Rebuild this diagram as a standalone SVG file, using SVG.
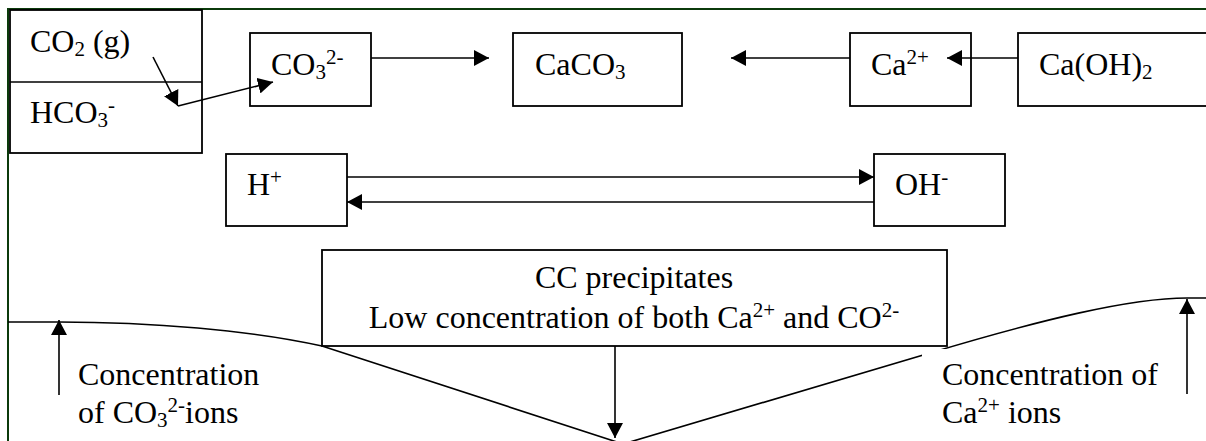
<svg xmlns="http://www.w3.org/2000/svg" width="1206" height="441" viewBox="0 0 1206 441" font-family="'Liberation Serif', 'Times New Roman', 'DejaVu Serif', serif">
<defs>
<style>
text{font-family:'Liberation Serif','Times New Roman','DejaVu Serif',serif;font-size:32px;fill:#000}
.s{font-size:21px}
.box{fill:#fff;stroke:#000;stroke-width:1.8}
.ln{fill:none;stroke:#000;stroke-width:1.6}
.arr{fill:none;stroke:#000;stroke-width:1.6;marker-end:url(#ah)}
</style>
<marker id="ah" markerUnits="userSpaceOnUse" markerWidth="16" markerHeight="16" refX="15" refY="8" orient="auto">
<path d="M0,0 L15,8 L0,16 z" fill="#000"/>
</marker>
</defs>
<rect x="0" y="0" width="1206" height="441" fill="#fff"/>
<path d="M8,441 L8,9 L1206,9" fill="none" stroke="#0b3a0b" stroke-width="2"/>

<g id="co2-hco3">
<rect class="box" x="10" y="10" width="192" height="143"/>
<line class="ln" x1="10" y1="82" x2="202" y2="82"/>
<text x="30" y="52">CO<tspan class="s" dy="4">2</tspan><tspan dy="-4"> (g)</tspan></text>
<text x="30" y="123">HCO<tspan class="s" dy="4">3</tspan><tspan class="s" dy="-15">-</tspan></text>
</g>
<g id="co3">
<rect class="box" x="250" y="33" width="121" height="73"/>
<text x="271" y="75">CO<tspan class="s" dy="4">3</tspan><tspan class="s" dy="-15">2-</tspan></text>
</g>
<g id="caco3">
<rect class="box" x="513" y="33" width="169" height="73"/>
<text x="535" y="75">CaCO<tspan class="s" dy="4">3</tspan></text>
</g>
<g id="ca">
<rect class="box" x="850" y="33" width="121" height="73"/>
<text x="871" y="75">Ca<tspan class="s" dy="-11">2+</tspan></text>
</g>
<g id="caoh2">
<rect class="box" x="1018" y="33" width="200" height="73"/>
<text x="1039" y="75">Ca(OH)<tspan class="s" dy="4">2</tspan></text>
</g>
<g id="h">
<rect class="box" x="226" y="154" width="121" height="72"/>
<text x="247" y="195">H<tspan class="s" dy="-11">+</tspan></text>
</g>
<g id="oh">
<rect class="box" x="874" y="154" width="131" height="72"/>
<text x="895" y="195">OH<tspan class="s" dy="-11">-</tspan></text>
</g>
<g id="cc">
<rect class="box" x="322" y="250" width="625" height="96"/>
<text x="634" y="288" text-anchor="middle">CC precipitates</text>
<text x="634" y="328" text-anchor="middle">Low concentration of both Ca<tspan class="s" dy="-11">2+</tspan><tspan dy="11"> and CO</tspan><tspan class="s" dy="-11">2-</tspan></text>
</g>

<g id="connectors">
<path class="ln" d="M8,322 L59,322 C150,322 250,330 322,346 L623,444"/>
<path class="ln" d="M623,444 L930,353 C1040,320 1130,298 1187,298 L1206,298"/>
<line class="arr" x1="153" y1="57" x2="178" y2="106"/>
<line class="arr" x1="178" y1="106" x2="273" y2="82"/>
<line class="arr" x1="371" y1="58" x2="489" y2="58"/>
<line class="arr" x1="850" y1="58" x2="731" y2="58"/>
<line class="arr" x1="1018" y1="58" x2="947" y2="58"/>
<line class="arr" x1="347" y1="177" x2="874" y2="177"/>
<line class="arr" x1="874" y1="202" x2="347" y2="202"/>
<line class="arr" x1="615" y1="346" x2="615" y2="438"/>
<line class="arr" x1="59" y1="395" x2="59" y2="320"/>
<line class="arr" x1="1187" y1="394" x2="1187" y2="299"/>
</g>

<g id="label-co3">
<text x="78" y="385">Concentration</text>
<text x="78" y="423">of CO<tspan class="s" dy="4">3</tspan><tspan class="s" dy="-15">2-</tspan><tspan dy="11">ions</tspan></text>
</g>
<g id="label-ca">
<rect x="922" y="349" width="250" height="92" fill="#fff"/>
<text x="942" y="385">Concentration of</text>
<text x="942" y="423">Ca<tspan class="s" dy="-11">2+</tspan><tspan dy="11"> ions</tspan></text>
</g>
</svg>
